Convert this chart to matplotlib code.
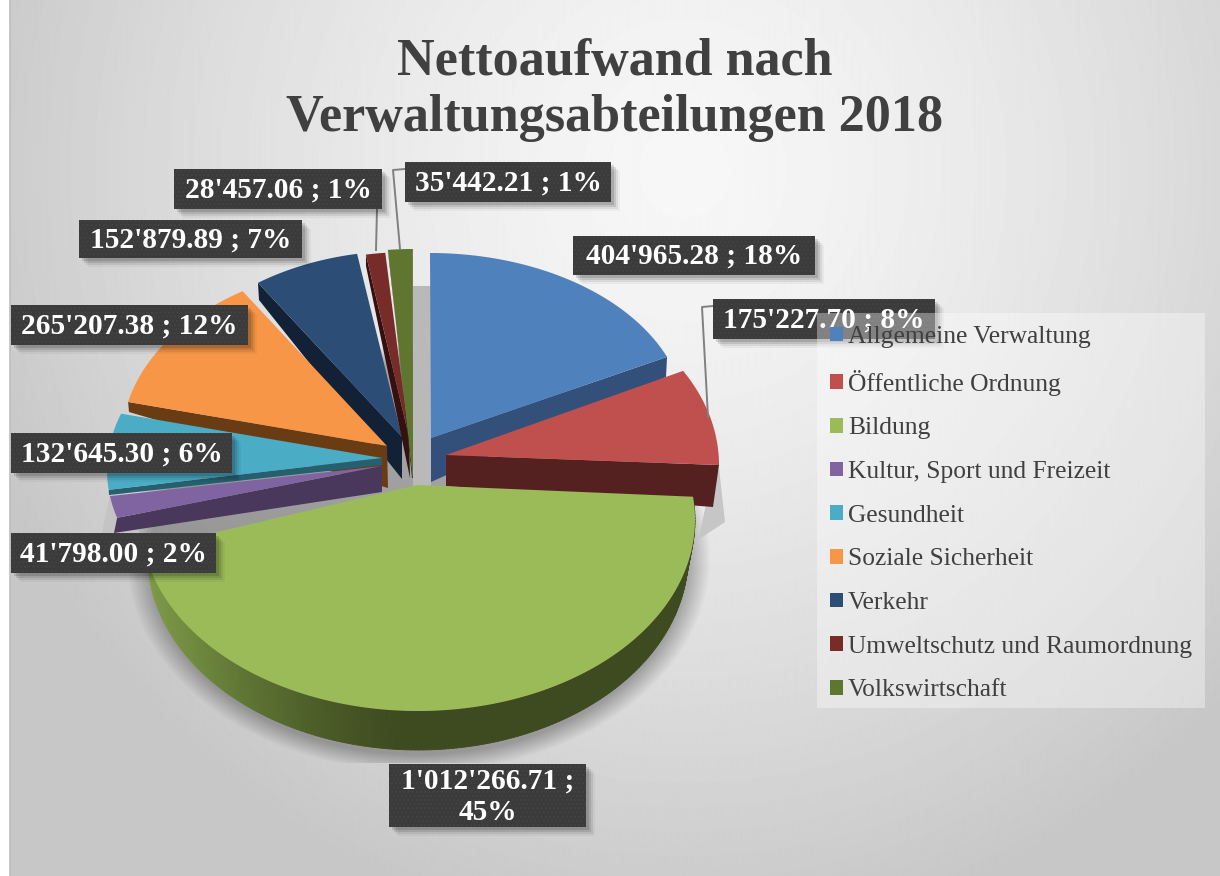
import numpy as np
import matplotlib
matplotlib.use("Agg")
import matplotlib.pyplot as plt
from matplotlib.patches import Rectangle, Patch
from matplotlib.collections import PolyCollection
from matplotlib.colors import to_rgb

plt.rcParams['hatch.linewidth'] = 0.7

title = "Nettoaufwand nach\nVerwaltungsabteilungen 2018"
categories = ["Allgemeine Verwaltung", "Öffentliche Ordnung", "Bildung",
              "Kultur, Sport und Freizeit", "Gesundheit", "Soziale Sicherheit",
              "Verkehr", "Umweltschutz und Raumordnung", "Volkswirtschaft"]
values = [404965.28, 175227.70, 1012266.71, 41798.00, 132645.30,
          265207.38, 152879.89, 28457.06, 35442.21]
value_labels = ["404'965.28 ; 18%", "175'227.70 ; 8%", "1'012'266.71 ;\n45%",
                "41'798.00 ; 2%", "132'645.30 ; 6%", "265'207.38 ; 12%",
                "152'879.89 ; 7%", "28'457.06 ; 1%", "35'442.21 ; 1%"]
colors = ["#4F81BD", "#C0504D", "#9BBB59", "#8064A2", "#4BACC6",
          "#F79646", "#2C4D75", "#772C2A", "#5F7530"]
wall_colors = ["#325079", "#552120", "#3E4A1F", "#49375C", "#24606F",
               "#693C14", "#122136", "#351010", "#2C3A14"]

sweeps = np.array(values) / sum(values) * 360

# perspective stand-in: apex, ellipse (cx, cy, rx, ry), first rim angle, sweep stretch
apex = [(431, 438), (446, 455), (417, 485), (382, 466), (382, 458),
        (387, 446), (402, 437), (409, 437), (413, 478)]
ell = [(430, 420, 256, 167), (446, 465, 273, 190), (418, 520, 277, 191),
       (382, 470, 275, 178), (382, 470, 275, 178), (385, 440, 263, 177),
       (402, 430, 253, 179), (409, 430, 253, 178), (413, 430, 253, 181)]
phi0 = [0, 60.3, 83, 254.4, 263.6, 282.4, 325.3, 350.2, 354.3]
stretch = [1.046, 1.059, 1.10, 1.07, 1.17, 1.056, 1.0, 0.97, 1.0]
# wall depth at the apex and at the rim end of the visible cut face
wall_edge = {0: ('end', (431, 482), (666, 377)),
             1: ('end', (446, 486), (713, 507)),
             3: ('start', (382, 492), (114, 533)),
             4: ('start', (382, 465), (109, 495)),
             5: ('start', (388, 488), (129, 412)),
             6: ('start', (402, 479), (259, 300)),
             7: ('start', (410, 478), (366, 266)),
             8: ('start', (412, 478), (390, 266))}

# boxes: x0, y0, x1, y1
boxes = [(573, 236, 815, 275), (713, 299, 935, 339), (389, 764, 586, 827),
         (11, 533, 216, 573), (11, 433, 232, 473), (11, 305, 248, 345),
         (79, 220, 302, 258), (174, 169, 382, 209), (405, 162, 611, 202)]
leaders = [[(713, 306), (702, 307), (708, 417)],
           [(377, 209), (376, 250)],
           [(405, 169), (393, 170), (400, 249)]]
legend_box = (817, 313, 1205, 708)

W, H = 1220, 876
fig = plt.figure(figsize=(W / 100, H / 100), dpi=100)
ax = fig.add_axes([0, 0, 1, 1])
ax.set_xlim(0, W)
ax.set_ylim(H, 0)
ax.axis('off')
SERIF = 'Liberation Serif'

# background
yy, xx = np.mgrid[0:H, 0:W]
d = np.sqrt(((xx - 680) / 680.0) ** 2 + ((yy - 170) / 700.0) ** 2)
bg = 247 - 42 * np.clip(d, 0, 1.1) ** 1.4
bg = np.clip(bg, 0, 255) / 255.0
ax.imshow(bg, extent=(10, W, H, 0), cmap='gray', vmin=0, vmax=1, zorder=0, aspect='auto')
ax.plot([10, 10], [0, H], color='#bdbdbd', lw=1.2, zorder=0.5)
ax.set_xlim(0, W)
ax.set_ylim(H, 0)

# soft shadow
dd = np.sqrt(((xx - 418) / 268.0) ** 2 + ((yy - 558) / 196.0) ** 2)
al = 0.40 * np.clip((1.09 - dd) / 0.09, 0, 1)
al[yy > 762] = 0
sh = np.zeros((H, W, 4))
sh[..., :3] = 0.25
sh[..., 3] = al
ax.imshow(sh, extent=(0, W, H, 0), zorder=1, aspect='auto')
ax.set_xlim(0, W)
ax.set_ylim(H, 0)
ax.fill([413, 431, 431, 413], [286, 286, 490, 490], color='#b9b9b9', zorder=1.1, lw=0)
ax.fill([102, 115, 150, 105], [533, 470, 560, 560], color='#c4c4c4', zorder=1.1, lw=0)
ax.fill([706, 719, 725, 698], [505, 468, 522, 540], color='#c6c6c6', zorder=1.1, lw=0)


def rim(i, n=80):
    cx, cy, rx, ry = ell[i]
    ph = np.radians(phi0[i] + np.linspace(0, sweeps[i] * stretch[i], n))
    return cx + rx * np.sin(ph), cy - ry * np.cos(ph)


def draw_slice(i, z):
    x, y = rim(i)
    if i in wall_edge:
        which, a2, r2 = wall_edge[i]
        rx0, ry0 = (x[-1], y[-1]) if which == 'end' else (x[0], y[0])
        ax.fill([apex[i][0], rx0, r2[0], a2[0]], [apex[i][1], ry0, r2[1], a2[1]],
                color=wall_colors[i], lw=0, zorder=z)
    ax.fill(np.r_[apex[i][0], x], np.r_[apex[i][1], y], color=colors[i], lw=0, zorder=z + 0.1)


for z, i in zip(range(2, 11), [0, 1, 6, 7, 8, 5, 4, 3]):
    draw_slice(i, z)

# Bildung outer wall with lateral shading
b = 2
x_top, y_top = rim(b, 200)
ph = np.radians(phi0[b] + np.linspace(0, sweeps[b] * stretch[b], 200))
x_low = 418 + 270 * np.sin(ph)
y_low = 556 - 194 * np.cos(ph)
y_low = np.maximum(y_low, y_top)
stops_x = [145, 190, 250, 330, 400, 700]
stops_c = np.array([to_rgb(c) for c in ["#7F9C48", "#728D40", "#5E7434", "#4A5A27", "#3E4A1F", "#3E4A1F"]])
polys, cols = [], []
for k in range(len(ph) - 1):
    polys.append([(x_top[k], y_top[k]), (x_top[k + 1], y_top[k + 1]),
                  (x_low[k + 1], y_low[k + 1]), (x_low[k], y_low[k])])
    xm = x_low[k]
    cols.append([np.interp(xm, stops_x, stops_c[:, j]) for j in range(3)])
ax.add_collection(PolyCollection(polys, facecolors=cols, edgecolors=cols, linewidths=0.6, zorder=11))
ax.fill(np.r_[apex[b][0], x_top], np.r_[apex[b][1], y_top], color=colors[b], lw=0, zorder=11.5)

# leader lines
for pts in leaders:
    xs, ys = zip(*pts)
    ax.plot(xs, ys, color='#808080', lw=1.4, zorder=12)

# data labels
for lab, (x0, y0, x1, y1) in zip(value_labels, boxes):
    for off, a in [(9, 0.04), (7, 0.07), (5, 0.10), (3, 0.13)]:
        ax.add_patch(Rectangle((x0 + off, y0 + off), x1 - x0, y1 - y0, fc='black', alpha=a, lw=0, zorder=13))
    ax.add_patch(Rectangle((x0, y0), x1 - x0, y1 - y0, fc='#3B3B3B', ec='#444444', hatch='....', lw=0, zorder=14))
    ax.text((x0 + x1) / 2, (y0 + y1) / 2 + 1, lab, color='white', fontsize=21.2, fontweight='bold',
            family=SERIF, ha='center', va='center', zorder=15, linespacing=1.2)

# title
ax.text(615, 90, title, color='#404040', fontsize=37.5, fontweight='bold', family=SERIF,
        ha='center', va='center', linespacing=1.2, zorder=16)

# legend
lx0, ly0, lx1, ly1 = legend_box
ax.add_patch(Rectangle((lx0, ly0), lx1 - lx0, ly1 - ly0, fc='white', alpha=0.36, lw=0, zorder=17))
handles = [Patch(facecolor=c, edgecolor='none') for c in colors]
leg = ax.legend(handles, categories, loc='upper left', bbox_to_anchor=(lx0 + 2, ly0 + 2),
                bbox_transform=ax.transData, frameon=False, borderaxespad=0,
                borderpad=0.43, prop={'family': SERIF, 'size': 18.35},
                labelcolor='#404040', handlelength=0.51, handleheight=0.51,
                handletextpad=0.2, labelspacing=0.85)
leg.set_zorder(18)

fig.savefig('out.png', dpi=100)
